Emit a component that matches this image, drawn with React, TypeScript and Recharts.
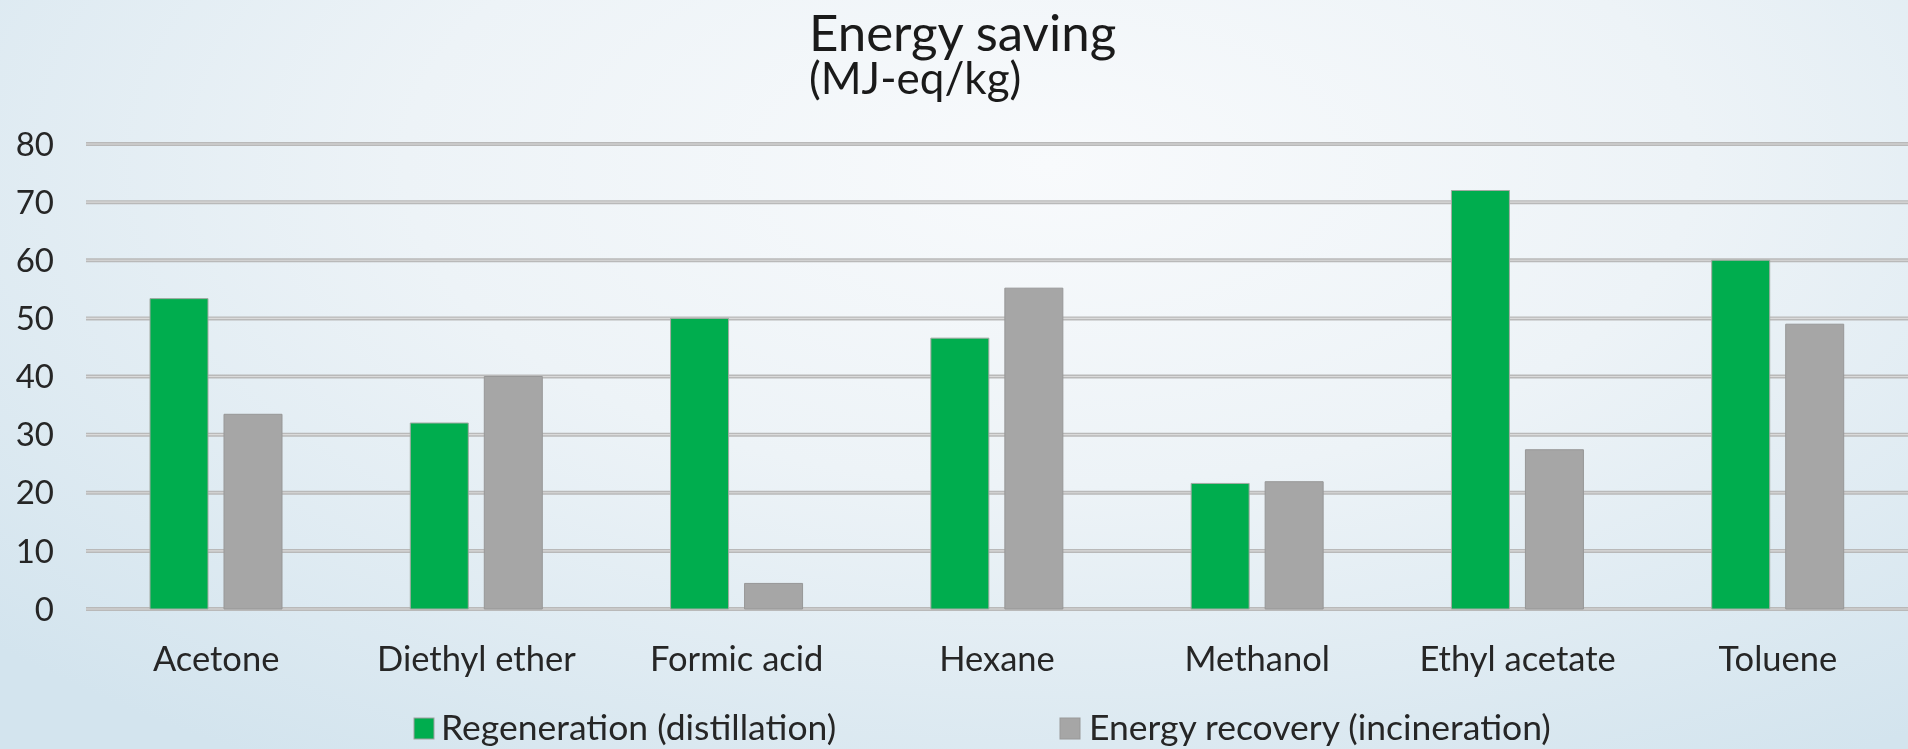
import React from "react";
import { BarChart, Bar, XAxis, YAxis, CartesianGrid, Legend } from "recharts";

const categories = ["Acetone", "Diethyl ether", "Formic acid", "Hexane", "Methanol", "Ethyl acetate", "Toluene"];
const regeneration = [53.4, 32.0, 50.0, 46.6, 21.6, 72.0, 60.0];
const energyRecovery = [33.5, 40.0, 4.4, 55.2, 21.9, 27.4, 49.0];
const yTicks = [0, 10, 20, 30, 40, 50, 60, 70, 80];
const seriesNames = ["Regeneration (distillation)", "Energy recovery (incineration)"];
const titleLines = ["Energy saving", "(MJ-eq/kg)"];

const data = categories.map((c, i) => ({ name: c, regen: regeneration[i], recov: energyRecovery[i] }));

const FONT = "Lato, 'Open Sans', sans-serif";
const TEXT = "#262626";
const GREEN = "#00ad4e";
const GRAY = "#a6a6a6";

const W = 1908;
const H = 749;

const LegendContent = () => (
  <svg width={W} height={44} style={{ display: "block" }}>
    <rect x={414} y={13} width={20} height={21} fill={GREEN} stroke="#a0a0a0" strokeWidth={1} />
    <text x={441} y={35} fontFamily={FONT} fontSize={35.5} fill={TEXT}>{seriesNames[0]}</text>
    <rect x={1060} y={13} width={20} height={21} fill={GRAY} stroke="#999" strokeWidth={1} />
    <text x={1089} y={35} fontFamily={FONT} fontSize={35.5} fill={TEXT}>{seriesNames[1]}</text>
  </svg>
);

export default function App() {
  return (
    <div
      style={{
        position: "fixed",
        left: 0,
        top: 0,
        width: W,
        height: H,
        overflow: "hidden",
        background:
          "radial-gradient(ellipse 75% 95% at 55% 22%, #f8fafc 0%, #edf3f7 45%, #d3e4ee 100%)",
      }}
    >
      <BarChart
        width={W}
        height={H}
        data={data}
        margin={{ top: 144, right: 0, bottom: 0, left: 0 }}
        barSize={58}
        barGap={16}
      >
        <CartesianGrid vertical={false} stroke="#b9b9b9" strokeWidth={4} />
        <CartesianGrid vertical={false} stroke="#dadada" strokeWidth={1.2} />
        <XAxis
          dataKey="name"
          height={140}
          axisLine={false}
          tickLine={false}
          tickMargin={32}
          interval={0}
          tick={{ fontFamily: FONT, fontSize: 34.5, fill: TEXT }}
        />
        <YAxis
          width={86}
          domain={[0, 80]}
          ticks={yTicks}
          axisLine={false}
          tickLine={false}
          tickMargin={26}
          tick={{ fontFamily: FONT, fontSize: 33, fill: TEXT }}
        />
        <Legend
          layout="horizontal"
          verticalAlign="middle"
          align="center"
          wrapperStyle={{ top: 705, left: 0, width: W, height: 44 }}
          content={() => <LegendContent />}
        />
        <Bar dataKey="regen" name={seriesNames[0]} fill={GREEN} stroke="#a3aaa3" strokeWidth={1} isAnimationActive={false} />
        <Bar dataKey="recov" name={seriesNames[1]} fill={GRAY} stroke="#979797" strokeWidth={1} isAnimationActive={false} />
      </BarChart>
      <svg width={400} height={110} style={{ position: "absolute", left: 790, top: 0 }}>
        <text x={19} y={50.5} fontFamily={FONT} fontSize={51} fill="#1a1a1a">{titleLines[0]}</text>
        <text x={19} y={94} fontFamily={FONT} fontSize={44} fill="#1a1a1a">{titleLines[1]}</text>
      </svg>
    </div>
  );
}
